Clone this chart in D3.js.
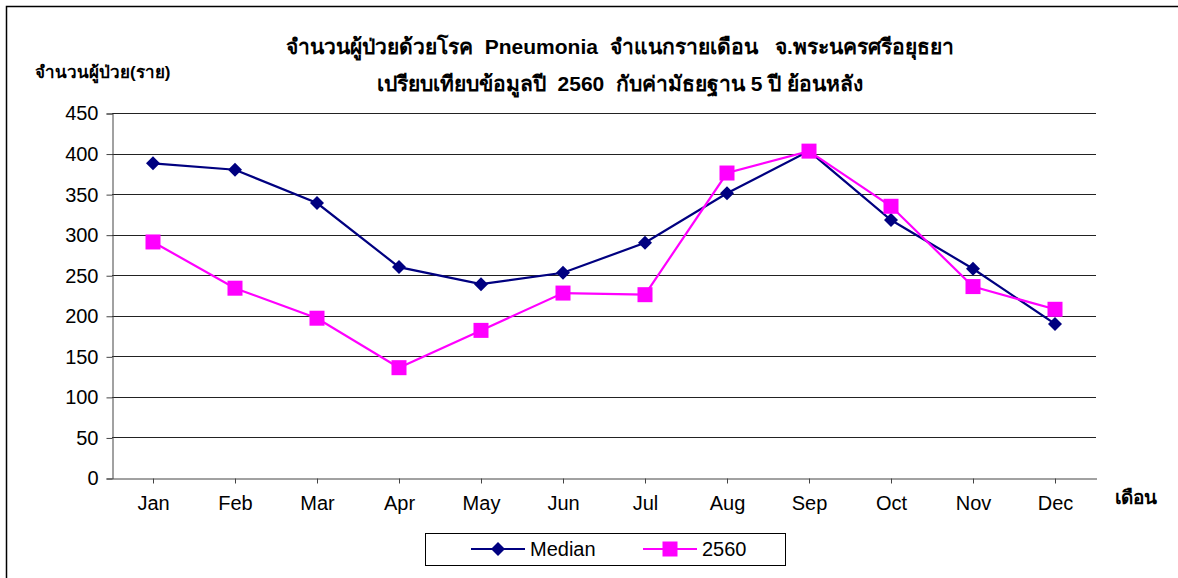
<!DOCTYPE html>
<html>
<head>
<meta charset="utf-8">
<script src="https://cdn.jsdelivr.net/npm/d3@7"></script>
<style>
  body { margin: 0; background: #fff; }
  svg { display: block; font-family: "Liberation Sans", Arial, sans-serif; }
  .pre { white-space: pre; }
</style>
</head>
<body>
<div id="chart"></div>
<script>
// data
const months = ["Jan", "Feb", "Mar", "Apr", "May", "Jun", "Jul", "Aug", "Sep", "Oct", "Nov", "Dec"];
const medianValues = [388, 380, 339, 260, 239, 253, 290, 351, 403, 318, 258, 190];
const values2560 = [291, 234, 197, 136, 182, 228, 226, 376, 403, 335, 236, 208];
const yTicks = [0, 50, 100, 150, 200, 250, 300, 350, 400, 450];

const W = 1178, H = 578;
const plot = { left: 112, right: 1096, top: 113, bottom: 478 };

const svg = d3.select("#chart").append("svg")
    .attr("width", W).attr("height", H);

// outer frame (only left and top edges are visible in the picture)
svg.append("path")
    .attr("d", `M6.5,${H + 5} V6.5 H${W + 5}`)
    .attr("fill", "none").attr("stroke", "#000").attr("stroke-width", 1.5);

const x = d3.scaleBand().domain(months).range([plot.left, plot.right]);
const y = d3.scaleLinear().domain([0, 450]).range([plot.bottom, plot.top]);

// gridlines
svg.append("g")
    .selectAll("line")
    .data(yTicks.filter(d => d > 0))
    .join("line")
    .attr("x1", plot.left).attr("x2", plot.right)
    .attr("y1", d => Math.round(y(d)) + 0.5).attr("y2", d => Math.round(y(d)) + 0.5)
    .attr("stroke", "#222").attr("stroke-width", 1);

// y axis
const yAxis = svg.append("g")
    .attr("transform", `translate(${plot.left + 0.5},0.5)`)
    .call(d3.axisLeft(y).tickValues(yTicks).tickSize(6).tickPadding(8));
yAxis.select(".domain").attr("stroke", "#444");
yAxis.selectAll(".tick line").attr("stroke", "#444");
yAxis.selectAll("text").attr("font-size", 20).attr("fill", "#000")
    .attr("font-family", "\"Liberation Sans\", Arial, sans-serif");

// x axis
const xAxis = svg.append("g")
    .attr("transform", `translate(0.5,${plot.bottom + 0.5})`)
    .call(d3.axisBottom(x).tickSize(5).tickPadding(12).tickSizeOuter(0));
xAxis.select(".domain").attr("stroke", "#444");
xAxis.selectAll(".tick line").attr("stroke", "#444");
xAxis.selectAll("text").attr("font-size", 20).attr("fill", "#000")
    .attr("font-family", "\"Liberation Sans\", Arial, sans-serif");

const cx = m => x(m) + x.bandwidth() / 2;
const line = d3.line().x((d, i) => cx(months[i])).y(d => y(d));

// series
svg.append("path").datum(medianValues)
    .attr("d", line).attr("fill", "none")
    .attr("stroke", "#000080").attr("stroke-width", 2.2);
svg.append("path").datum(values2560)
    .attr("d", line).attr("fill", "none")
    .attr("stroke", "#ff00ff").attr("stroke-width", 2.2);

const diamond = d3.symbol().type(d3.symbolDiamond2).size(125);

svg.append("g").selectAll("path")
    .data(medianValues)
    .join("path")
    .attr("transform", (d, i) => `translate(${cx(months[i])},${y(d)})`)
    .attr("d", diamond)
    .attr("fill", "#000080");

svg.append("g").selectAll("rect")
    .data(values2560)
    .join("rect")
    .attr("x", (d, i) => cx(months[i]) - 7.5)
    .attr("y", d => y(d) - 7.5)
    .attr("width", 15).attr("height", 15)
    .attr("fill", "#ff00ff");

// titles
const title = svg.append("g").attr("font-weight", "bold").attr("font-size", 21)
    .attr("text-anchor", "middle").attr("fill", "#000");
title.append("text").attr("class", "pre").attr("x", 620).attr("y", 54)
    .text("จำนวนผู้ป่วยด้วยโรค  Pneumonia  จำแนกรายเดือน   จ.พระนครศรีอยุธยา");
title.append("text").attr("class", "pre").attr("x", 620).attr("y", 91)
    .text("เปรียบเทียบข้อมูลปี  2560  กับค่ามัธยฐาน 5 ปี ย้อนหลัง");

svg.append("text").attr("x", 35).attr("y", 78)
    .attr("font-weight", "bold").attr("font-size", 17)
    .text("จำนวนผู้ป่วย(ราย)");

svg.append("text").attr("x", 1115).attr("y", 504)
    .attr("font-weight", "bold").attr("font-size", 19)
    .text("เดือน");

// legend
const lg = svg.append("g");
lg.append("rect").attr("x", 425.5).attr("y", 533.5).attr("width", 360).attr("height", 32)
    .attr("fill", "#fff").attr("stroke", "#000").attr("stroke-width", 1);

const legendItems = [
    { name: "Median", color: "#000080", x: 471, shape: "diamond" },
    { name: "2560", color: "#ff00ff", x: 643, shape: "square" }
];
legendItems.forEach(it => {
    lg.append("line").attr("x1", it.x).attr("x2", it.x + 54)
        .attr("y1", 549).attr("y2", 549)
        .attr("stroke", it.color).attr("stroke-width", 2.2);
    if (it.shape === "diamond") {
        lg.append("path").attr("transform", `translate(${it.x + 27},549)`)
            .attr("d", diamond).attr("fill", it.color);
    } else {
        lg.append("rect").attr("x", it.x + 19.5).attr("y", 541.5)
            .attr("width", 15).attr("height", 15).attr("fill", it.color);
    }
    lg.append("text").attr("x", it.x + 59).attr("y", 556)
        .attr("font-size", 20).attr("fill", "#000").text(it.name);
});
</script>
</body>
</html>
